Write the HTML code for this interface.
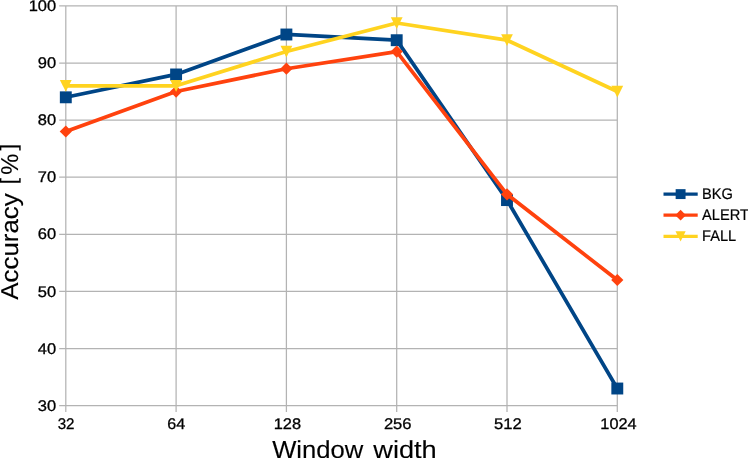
<!DOCTYPE html>
<html><head><meta charset="utf-8"><title>Accuracy vs window width</title>
<style>html,body{margin:0;padding:0;background:#fff;}svg{display:block;will-change:transform;}text{font-family:"Liberation Sans",sans-serif;fill:#000;text-rendering:geometricPrecision;stroke:#000;stroke-width:0.3px;}</style></head><body>
<svg width="748" height="458" viewBox="0 0 748 458">
<rect width="748" height="458" fill="#ffffff"/>
<g stroke="#b3b3b3" stroke-width="1.25" fill="none">
<line x1="59.2" y1="405.60" x2="617.30" y2="405.60"/>
<line x1="59.2" y1="348.50" x2="617.30" y2="348.50"/>
<line x1="59.2" y1="291.40" x2="617.30" y2="291.40"/>
<line x1="59.2" y1="234.30" x2="617.30" y2="234.30"/>
<line x1="59.2" y1="177.20" x2="617.30" y2="177.20"/>
<line x1="59.2" y1="120.10" x2="617.30" y2="120.10"/>
<line x1="59.2" y1="63.00" x2="617.30" y2="63.00"/>
<line x1="59.2" y1="5.90" x2="617.30" y2="5.90"/>
<line x1="65.80" y1="5.90" x2="65.80" y2="412.0"/>
<line x1="176.10" y1="5.90" x2="176.10" y2="412.0"/>
<line x1="286.40" y1="5.90" x2="286.40" y2="412.0"/>
<line x1="396.70" y1="5.90" x2="396.70" y2="412.0"/>
<line x1="507.00" y1="5.90" x2="507.00" y2="412.0"/>
<line x1="617.30" y1="5.90" x2="617.30" y2="412.0"/>
</g>
<polyline points="65.80,97.26 176.10,74.42 286.40,34.45 396.70,40.16 507.00,200.04 617.30,388.47" fill="none" stroke="#004586" stroke-width="3.7" stroke-linejoin="round" stroke-linecap="round"/>
<rect x="59.85" y="91.36" width="11.90" height="11.90" fill="#004586"/>
<rect x="170.15" y="68.52" width="11.90" height="11.90" fill="#004586"/>
<rect x="280.45" y="28.55" width="11.90" height="11.90" fill="#004586"/>
<rect x="390.75" y="34.26" width="11.90" height="11.90" fill="#004586"/>
<rect x="501.05" y="194.14" width="11.90" height="11.90" fill="#004586"/>
<rect x="611.35" y="382.57" width="11.90" height="11.90" fill="#004586"/>
<polyline points="65.80,131.52 176.10,91.55 286.40,68.71 396.70,51.58 507.00,194.33 617.30,279.98" fill="none" stroke="#ff420e" stroke-width="3.7" stroke-linejoin="round" stroke-linecap="round"/>
<polygon points="65.80,125.42 71.90,131.52 65.80,137.62 59.70,131.52" fill="#ff420e"/>
<polygon points="176.10,85.45 182.20,91.55 176.10,97.65 170.00,91.55" fill="#ff420e"/>
<polygon points="286.40,62.61 292.50,68.71 286.40,74.81 280.30,68.71" fill="#ff420e"/>
<polygon points="396.70,45.48 402.80,51.58 396.70,57.68 390.60,51.58" fill="#ff420e"/>
<polygon points="507.00,188.23 513.10,194.33 507.00,200.43 500.90,194.33" fill="#ff420e"/>
<polygon points="617.30,273.88 623.40,279.98 617.30,286.08 611.20,279.98" fill="#ff420e"/>
<polyline points="65.80,85.84 176.10,85.84 286.40,51.58 396.70,23.03 507.00,40.16 617.30,91.55" fill="none" stroke="#ffd320" stroke-width="3.7" stroke-linejoin="round" stroke-linecap="round"/>
<polygon points="59.90,79.94 71.70,79.94 65.80,91.74" fill="#ffd320"/>
<polygon points="170.20,79.94 182.00,79.94 176.10,91.74" fill="#ffd320"/>
<polygon points="280.50,45.68 292.30,45.68 286.40,57.48" fill="#ffd320"/>
<polygon points="390.80,17.13 402.60,17.13 396.70,28.93" fill="#ffd320"/>
<polygon points="501.10,34.26 512.90,34.26 507.00,46.06" fill="#ffd320"/>
<polygon points="611.40,85.65 623.20,85.65 617.30,97.45" fill="#ffd320"/>
<text transform="translate(56.15,410.70) scale(1.07,1)" font-size="15.4" text-anchor="end">30</text>
<text transform="translate(56.15,353.60) scale(1.07,1)" font-size="15.4" text-anchor="end">40</text>
<text transform="translate(56.15,296.50) scale(1.07,1)" font-size="15.4" text-anchor="end">50</text>
<text transform="translate(56.15,239.40) scale(1.07,1)" font-size="15.4" text-anchor="end">60</text>
<text transform="translate(56.15,182.30) scale(1.07,1)" font-size="15.4" text-anchor="end">70</text>
<text transform="translate(56.15,125.20) scale(1.07,1)" font-size="15.4" text-anchor="end">80</text>
<text transform="translate(56.15,68.10) scale(1.07,1)" font-size="15.4" text-anchor="end">90</text>
<text transform="translate(56.15,11.00) scale(1.07,1)" font-size="15.4" text-anchor="end">100</text>
<text transform="translate(66.10,429.15) scale(0.98,1)" font-size="15.4" text-anchor="middle">32</text>
<text transform="translate(176.20,429.15) scale(1.046,1)" font-size="15.4" text-anchor="middle">64</text>
<text transform="translate(287.40,429.15) scale(1.065,1)" font-size="15.4" text-anchor="middle">128</text>
<text transform="translate(397.70,429.15) scale(1.076,1)" font-size="15.4" text-anchor="middle">256</text>
<text transform="translate(507.85,429.15) scale(1.078,1)" font-size="15.4" text-anchor="middle">512</text>
<text transform="translate(618.50,429.15) scale(1.06,1)" font-size="15.4" text-anchor="middle">1024</text>
<text transform="translate(0,457.5)" font-size="24.6" style="font-kerning:none;stroke-width:0.12px"><tspan x="272.19" y="0" font-size="24.6" textLength="91.15" lengthAdjust="spacingAndGlyphs">Window</tspan> <tspan x="373.24" y="0" font-size="24.6" textLength="63.53" lengthAdjust="spacingAndGlyphs">width</tspan></text>
<text transform="translate(17.9,300) rotate(-90)" font-size="24.4" style="font-kerning:none;stroke-width:0.12px"><tspan x="0.25" y="0" font-size="24.4" textLength="106.40" lengthAdjust="spacingAndGlyphs">Accuracy</tspan> <tspan x="115.61" y="-1.5" font-size="22.3" textLength="6.57" lengthAdjust="spacingAndGlyphs">[</tspan><tspan x="125.15" y="0" font-size="24.4" textLength="21.09" lengthAdjust="spacingAndGlyphs">%</tspan><tspan x="149.61" y="-1.5" font-size="22.3" textLength="6.85" lengthAdjust="spacingAndGlyphs">]</tspan></text>
<line x1="663.5" y1="194.10" x2="697.7" y2="194.10" stroke="#004586" stroke-width="3.3"/>
<rect x="675.65" y="189.15" width="9.90" height="9.90" fill="#004586"/>
<text transform="translate(702.10,198.90) scale(0.95,1)" font-size="15.4" text-anchor="start" style="stroke-width:0.2px">BKG</text>
<line x1="663.5" y1="215.20" x2="697.7" y2="215.20" stroke="#ff420e" stroke-width="3.3"/>
<polygon points="680.60,209.85 685.95,215.20 680.60,220.55 675.25,215.20" fill="#ff420e"/>
<text transform="translate(702.10,220.00) scale(0.95,1)" font-size="15.4" text-anchor="start" style="stroke-width:0.2px">ALERT</text>
<line x1="663.5" y1="236.30" x2="697.7" y2="236.30" stroke="#ffd320" stroke-width="3.3"/>
<polygon points="675.50,231.20 685.70,231.20 680.60,241.40" fill="#ffd320"/>
<text transform="translate(702.10,241.10) scale(0.95,1)" font-size="15.4" text-anchor="start" style="stroke-width:0.2px">FALL</text>
</svg></body></html>
